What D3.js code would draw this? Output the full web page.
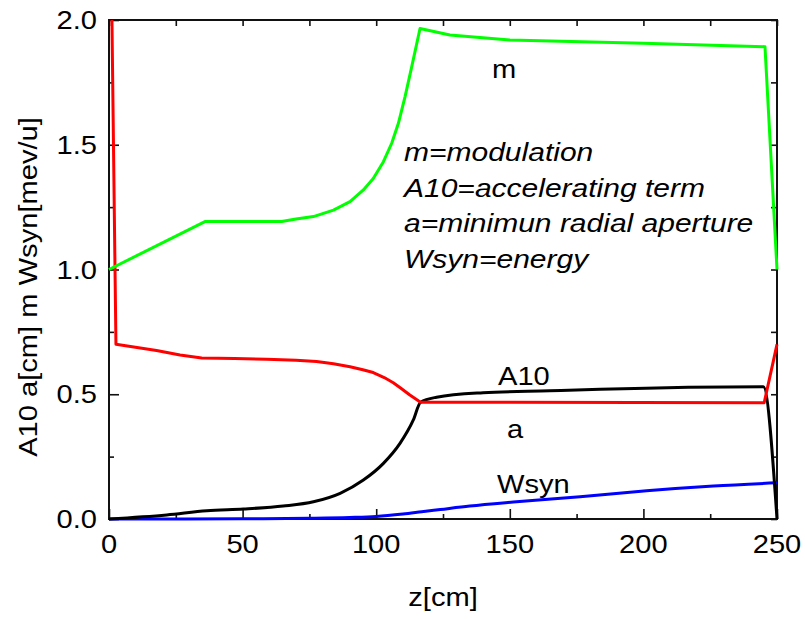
<!DOCTYPE html>
<html>
<head>
<meta charset="utf-8">
<script src="https://cdn.jsdelivr.net/npm/d3@7"></script>
<style>
  body { margin: 0; background: #fff; }
  svg { display: block; font-family: "Liberation Sans", Arial, sans-serif; }
</style>
</head>
<body>
<svg id="chart" width="805" height="619"></svg>
<script>
// values (z in cm)
var xTicks = [0, 50, 100, 150, 200, 250];
var yTicks = [0.0, 0.5, 1.0, 1.5, 2.0];

var mZ   = [0, 35.9, 64.6, 70, 76.5, 84, 90.2, 95.2, 98.9, 102.7, 105.8, 108.3, 110.8, 113.3, 116.4, 127.6, 150, 200, 245.5, 250];
var mVal = [1.0, 1.192, 1.192, 1.202, 1.212, 1.238, 1.272, 1.319, 1.365, 1.432, 1.506, 1.586, 1.693, 1.813, 1.966, 1.94, 1.92, 1.907, 1.893, 1.0];

var aZ   = [1.1, 2.6, 17.8, 26.6, 34.7, 47, 59, 70, 77.7, 84, 90.2, 95, 98.9, 103, 106.4, 109.5, 112.6, 116.6, 245.2, 250];
var aVal = [2.0, 0.70, 0.675, 0.657, 0.645, 0.643, 0.640, 0.636, 0.631, 0.622, 0.610, 0.598, 0.587, 0.567, 0.546, 0.522, 0.497, 0.468, 0.466, 0.70];

var a10Z   = [0, 21.6, 36.6, 50.3, 65.2, 76.5, 86.5, 95.2, 102.7, 108.9, 113.9, 116.6, 122.6, 140, 165, 183.8, 244.9, 250];
var a10Val = [0, 0.016, 0.033, 0.040, 0.052, 0.069, 0.103, 0.156, 0.223, 0.303, 0.397, 0.468, 0.488, 0.506, 0.514, 0.52, 0.530, 0];

var wZ   = [0, 50, 75, 90, 100, 110, 117, 124, 135, 151.3, 176.3, 201.2, 226.2, 250];
var wVal = [0, 0.001, 0.003, 0.006, 0.010, 0.020, 0.029, 0.038, 0.052, 0.068, 0.089, 0.113, 0.132, 0.145];

var notes = ['m=modulation', 'A10=accelerating term', 'a=minimun radial aperture', 'Wsyn=energy'];

var margin = { left: 109, top: 20, right: 28, bottom: 100 };
var width = 805 - margin.left - margin.right;
var height = 619 - margin.top - margin.bottom;
var stretch = 1.12;

var svg = d3.select('#chart');
var g = svg.append('g').attr('transform', 'translate(' + margin.left + ',' + margin.top + ')');

var x = d3.scaleLinear().domain([0, 250]).range([0, width]);
var y = d3.scaleLinear().domain([0, 2]).range([height, 0]);

function zip(zs, vs) {
  return zs.map(function (z, i) { return [z, vs[i]]; });
}

/**
 * Axes: ticks pointing inward, minor ticks in between
 */
function axis(gen, transform, size) {
  var a = g.append('g').attr('transform', transform).call(gen.tickSize(size).tickFormat(''));
  a.select('.domain').remove();
  a.selectAll('line').attr('stroke', '#111').attr('stroke-width', 1.6);
}
var xMinor = d3.range(25, 250, 50);
var yMinor = d3.range(0.25, 2, 0.5);
axis(d3.axisBottom(x).tickValues(xTicks), 'translate(0,' + height + ')', -10);
axis(d3.axisBottom(x).tickValues(xMinor), 'translate(0,' + height + ')', -5);
axis(d3.axisLeft(y).tickValues(yTicks), null, -10);
axis(d3.axisLeft(y).tickValues(yMinor), null, -5);
axis(d3.axisTop(x).tickValues(xTicks.concat(xMinor)), null, -6);
axis(d3.axisRight(y).tickValues(yTicks.concat(yMinor)), 'translate(' + width + ',0)', -6);

g.append('rect')
  .attr('width', width).attr('height', height)
  .attr('fill', 'none').attr('stroke', '#111').attr('stroke-width', 2);

// tick labels
g.selectAll('text.xlab').data(xTicks).enter().append('text')
  .attr('class', 'xlab')
  .attr('transform', function (d) { return 'translate(' + x(d) + ',' + (height + 34) + ') scale(' + stretch + ',1)'; })
  .attr('text-anchor', 'middle')
  .style('font-size', '26px')
  .text(function (d) { return d; });

g.selectAll('text.ylab').data(yTicks).enter().append('text')
  .attr('class', 'ylab')
  .attr('transform', function (d) { return 'translate(-12,' + (y(d) + 9) + ') scale(' + stretch + ',1)'; })
  .attr('text-anchor', 'end')
  .style('font-size', '26px')
  .text(function (d) { return d.toFixed(1); });

// axis titles
svg.append('text')
  .attr('transform', 'translate(443,606) scale(' + stretch + ',1)')
  .attr('text-anchor', 'middle')
  .style('font-size', '26px')
  .text('z[cm]');

svg.append('text')
  .attr('transform', 'translate(37,287) rotate(-90) scale(' + stretch + ',1)')
  .attr('text-anchor', 'middle')
  .style('font-size', '26px')
  .text('A10 a[cm] m Wsyn[mev/u]');

// curves
var straight = d3.line().x(function (d) { return x(d[0]); }).y(function (d) { return y(d[1]); });
var smooth = d3.line().curve(d3.curveMonotoneX).x(function (d) { return x(d[0]); }).y(function (d) { return y(d[1]); });

var series = [
  { data: zip(wZ, wVal), color: '#0000ff', gen: smooth },
  { data: zip(a10Z, a10Val), color: '#000000', gen: smooth },
  { data: zip(aZ, aVal), color: '#ff0000', gen: straight },
  { data: zip(mZ, mVal), color: '#00ff00', gen: straight }
];

g.selectAll('path.curve').data(series).enter().append('path')
  .attr('class', 'curve')
  .attr('d', function (d) { return d.gen(d.data); })
  .attr('fill', 'none')
  .attr('stroke', function (d) { return d.color; })
  .attr('stroke-width', 3)
  .attr('stroke-linejoin', 'round');

// curve names
var names = [
  { t: 'm', x: 492, y: 78 },
  { t: 'A10', x: 498, y: 385 },
  { t: 'a', x: 507, y: 438 },
  { t: 'Wsyn', x: 497, y: 493 }
];
svg.selectAll('text.name').data(names).enter().append('text')
  .attr('class', 'name')
  .attr('transform', function (d) { return 'translate(' + d.x + ',' + d.y + ') scale(' + stretch + ',1)'; })
  .style('font-size', '26px')
  .text(function (d) { return d.t; });

// legend notes
svg.selectAll('text.note').data(notes).enter().append('text')
  .attr('class', 'note')
  .attr('transform', function (d, i) { return 'translate(404,' + (161 + i * 35.5) + ') scale(1.2,1)'; })
  .style('font-size', '25px')
  .style('font-style', 'italic')
  .text(function (d) { return d; });
</script>
</body>
</html>
